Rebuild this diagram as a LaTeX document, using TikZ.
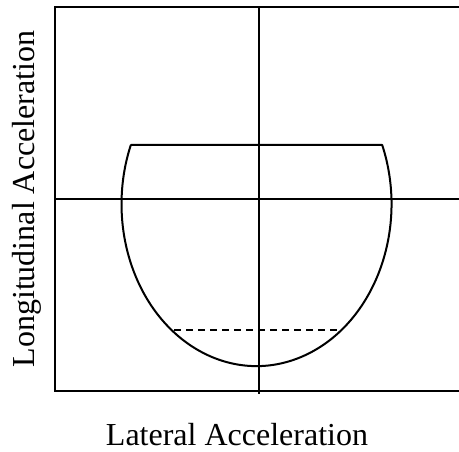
\documentclass[tikz,border=0pt]{standalone}
\usepackage{fontspec}
\setmainfont{Liberation Serif}
\begin{document}
\begin{tikzpicture}[x=1pt,y=1pt,
  ln/.style={line width=2pt},
  lbl/.style={font=\fontsize{32}{36}\selectfont, inner sep=0pt}]
\useasboundingbox (0,0) rectangle (459,452);
% frame (right side open)
\draw[ln] (459,445) -- (54.5,445) -- (54.5,60.5) -- (459,60.5);
% axes
\draw[ln] (259,445) -- (259,58);
\draw[ln] (54.5,253) -- (459,253);
% envelope
\draw[ln, line join=round] (130.8,307) -- (382.2,307)
  arc[start angle=21.4, end angle=-201.4, x radius=135, y radius=162] -- cycle;
% dashed limit
\draw[line width=2pt, dash pattern=on 7pt off 5pt] (174,121.5) -- (339,121.5);
% labels
\node[lbl, anchor=base] (xl) at (237,6) {Lateral Acceleration};
\node[lbl, anchor=base, rotate=90] (yl) at (35,253) {Longitudinal Acceleration};
\end{tikzpicture}
\end{document}
